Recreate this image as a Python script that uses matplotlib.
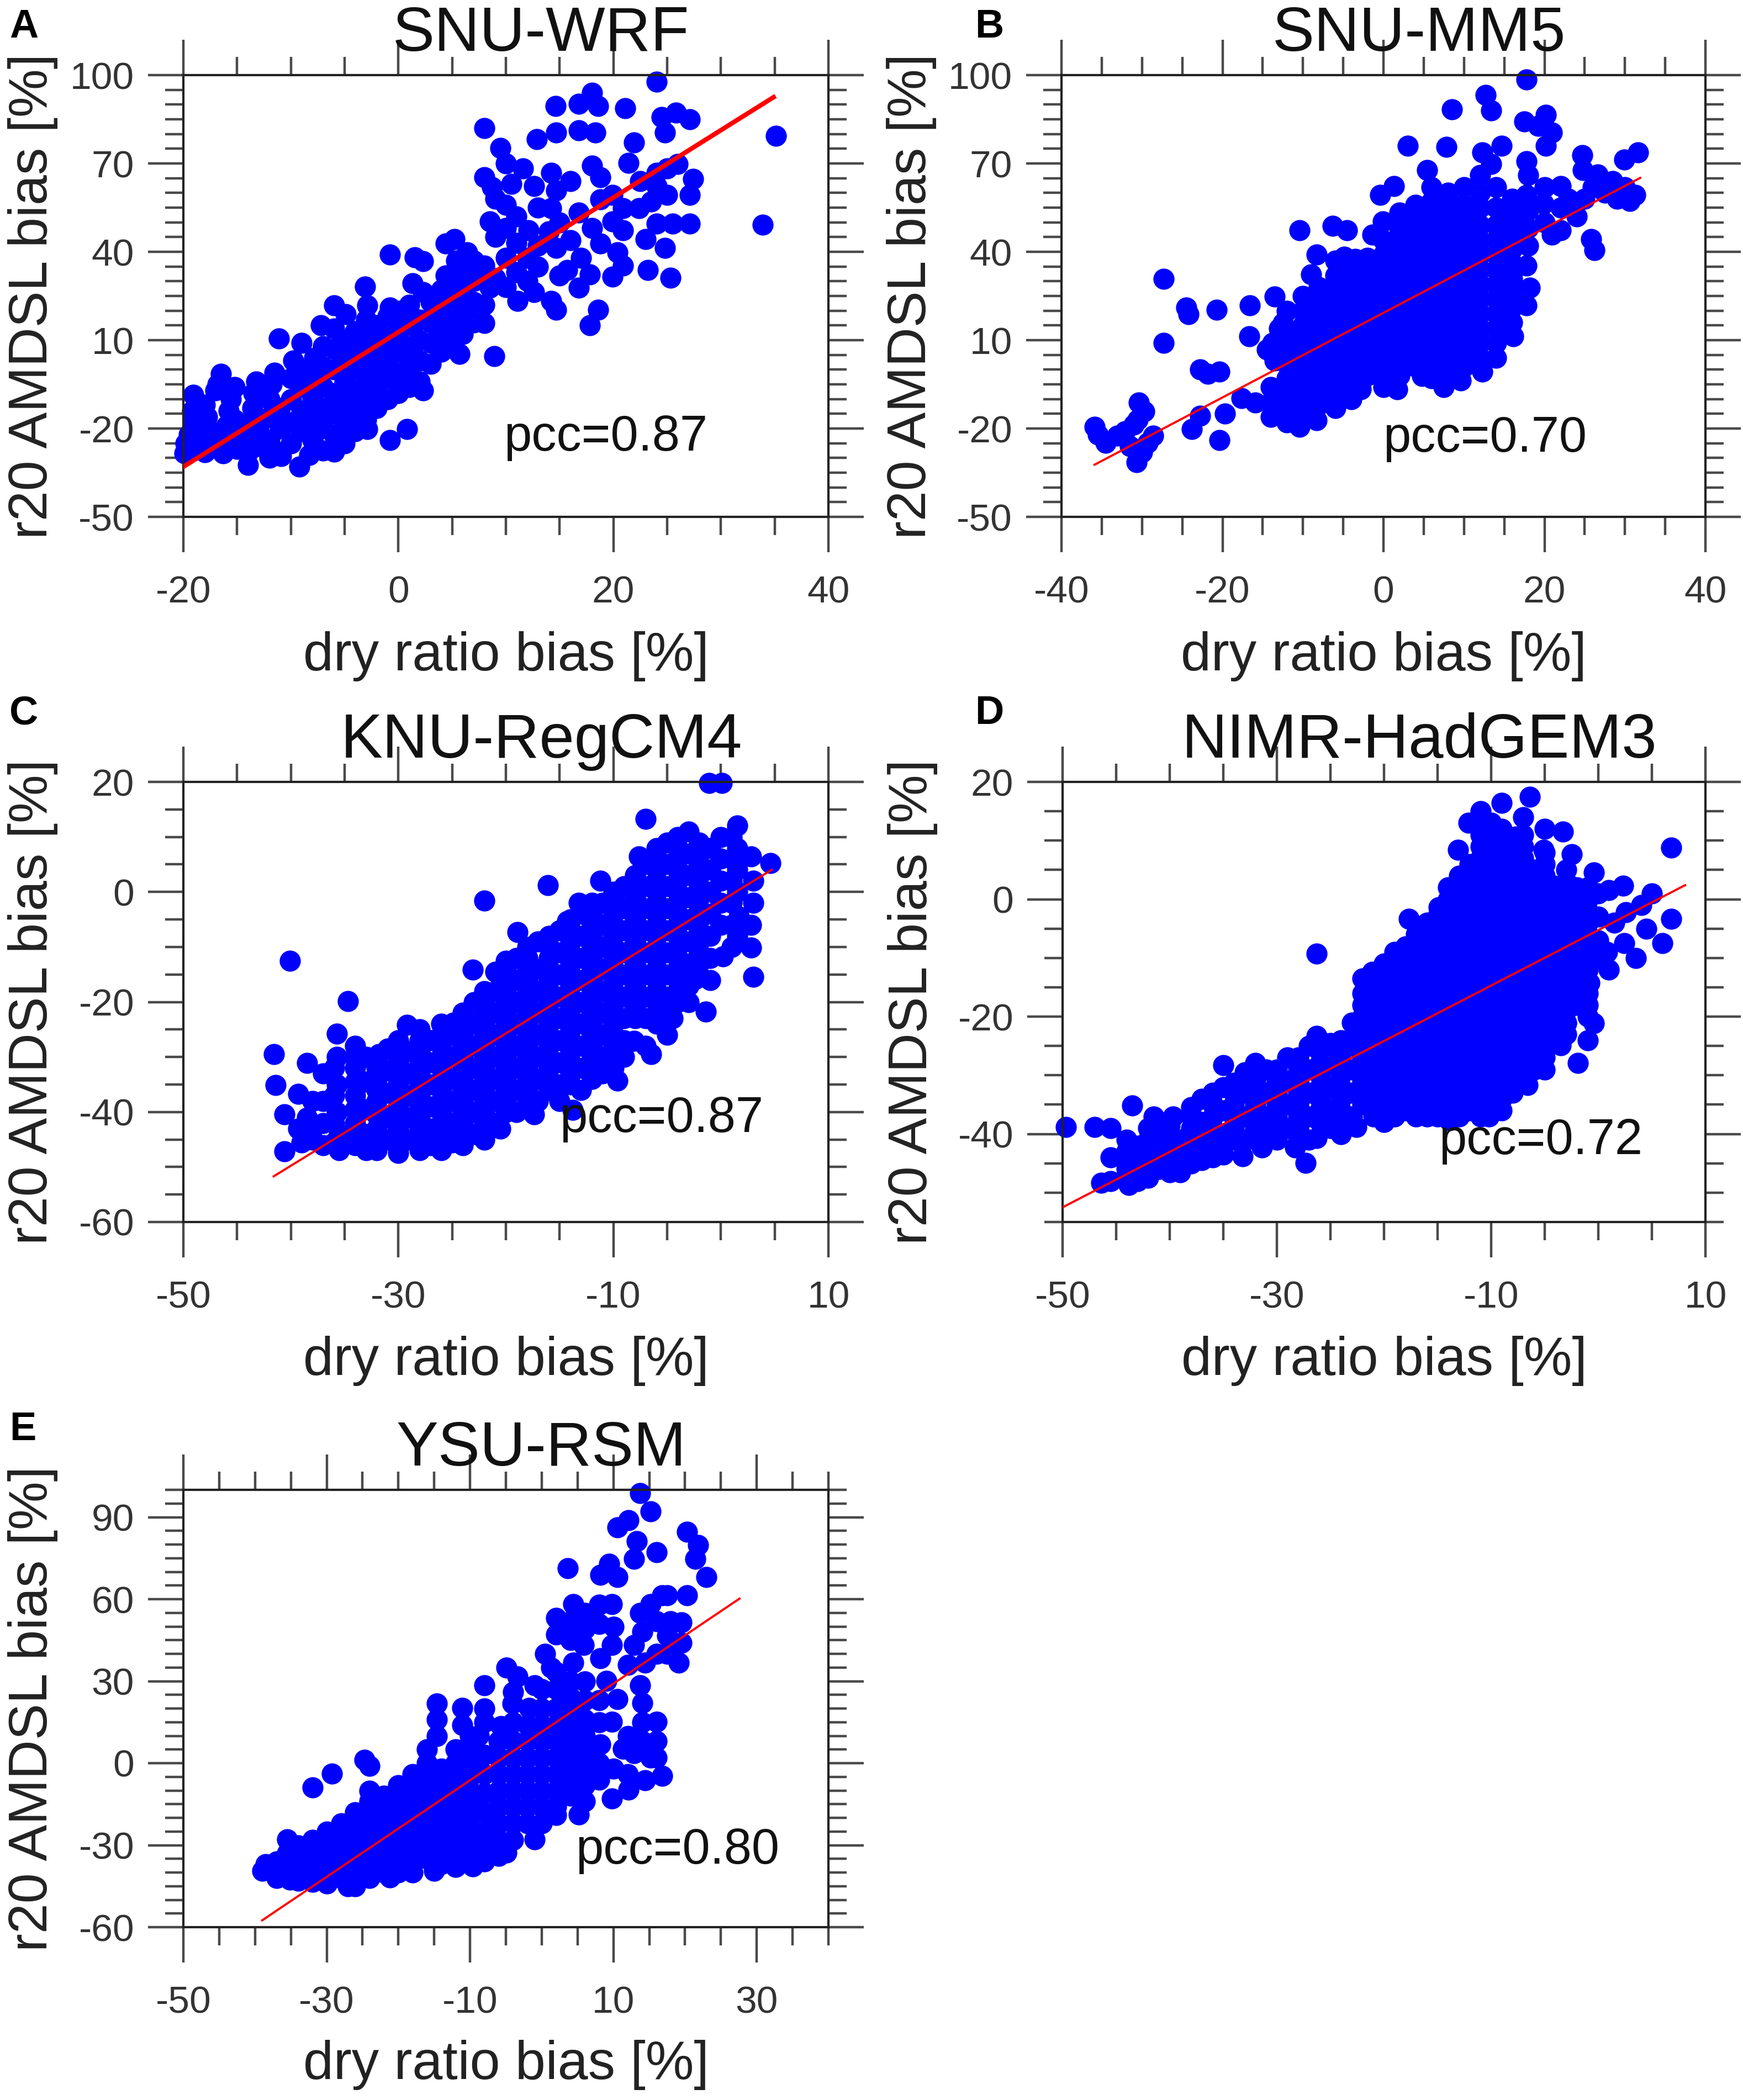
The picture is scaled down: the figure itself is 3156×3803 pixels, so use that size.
import numpy as np
import matplotlib
matplotlib.use('Agg')
import matplotlib.pyplot as plt
from matplotlib.ticker import MultipleLocator, FixedLocator

plt.rcParams['font.family'] = ['Liberation Sans', 'DejaVu Sans']
plt.rcParams['axes.unicode_minus'] = False

W, H = 3156, 3803

# ---- data (dry ratio bias, r20 AMDSL bias) ----
wrf_pts = [
    (-19.9, -28.5), (-19.8, -25), (-19.5, -22), (-19.6, -27), (-19.1, -8.5), (-19, -18), (-19.2, -14), (-18.5, -24), (-18.8, -20),
    (-18, -28), (-18, -12), (-17.8, -16), (-17.5, -21), (-17.5, -25), (-17, -7), (-16.5, -1.5), (-16.8, -5),
    (-16.3, -28.5), (-16, -24), (-16, -19), (-15.8, -14), (-15.6, -10), (-15.2, -6), (-15, -27), (-15, -22), (-15.2, -17),
    (-14, -32.3), (-14, -28), (-14, -23), (-13.8, -18), (-13.6, -13), (-13.5, -8), (-13.2, -4), (-13, -26), (-13, -20),
    (-12, -30), (-12, -24), (-12, -16), (-12, -10), (-11.8, -5), (-11.5, -1), (-11.1, 10.6), (-11, -28), (-11, -20), (-11, -13),
    (-10.9, -29.3), (-10, -25), (-10, -18), (-10, -10), (-10, -3), (-9.8, 3), (-9.2, -33), (-9, 9), (-9, -21), (-9, -14), (-9, -6), (-9, 0),
    (-8.3, -29), (-8, -24), (-8, -17), (-8, -10), (-8, -3), (-7.8, 4), (-7.2, 15.1), (-7, -27.5), (-7, -20), (-7, -13), (-7, -6), (-7, 1), (-7, 8),
    (-6, -27.8), (-6, -22), (-6, -15), (-6, -8), (-6, 0), (-6, 7), (-6, 14), (-6, 21.8), (-5, -25), (-5, -18), (-5, -11), (-5, -4), (-5, 3), (-5, 10), (-4.9, 18.8),
    (-4, -21), (-4, -14), (-4, -7), (-4, 0), (-4, 6), (-4, 13), (-3.1, 28.2), (-3, -17), (-3, -10), (-3, -3), (-3, 4), (-3, 11), (-3, 17), (-2.9, 21.8), (-2.9, -20.2),
    (-2, -13), (-2, -6), (-2, 1), (-2, 8), (-2, 15), (-1, -10), (-1, -3), (-1, 4), (-1, 11), (-1, 18), (-0.8, 21), (-0.8, -24), (-0.8, 39.1),
    (0, -8), (0, -1), (0, 6), (0, 13), (0, 20), (1, -6), (1, 1), (1, 8), (1, 15), (1, 22), (0.8, -20.2), (1.3, 29.4), (1.5, 38.1),
    (2, -4), (2.3, -7), (2, 3), (2, 10), (2, 17), (2.3, 26.3), (3, 2), (3, 9), (3, 16), (3, 23), (2.3, 36.9),
    (4, 6), (4, 13), (4, 20), (4, 27), (4.4, 32), (4.4, 42.9), (5, 10), (5, 17), (5, 24), (5.2, 30), (5.2, 44.4), (5.4, 37), (5.7, 5.3),
    (6, 12), (6, 19), (6, 26), (6.4, 39.9), (6, 33), (7, 16), (7, 23), (7, 30), (7, 37),
    (8, 15.8), (8, 22), (8, 35.4), (8.5, 27.9), (8.9, 4.6), (8, 82), (8, 65.4), (8.5, 50.4), (9, 58), (9, 45), (9, 31), (9.5, 75.2), (8.7, 62),
    (10, 28), (10, 38), (10, 48), (10, 56), (10, 70), (10.5, 63), (11, 33), (11.1, 23.3), (11, 43), (11.6, 68.4), (11, 52),
    (12, 30), (12, 38), (12.1, 47.4), (12.6, 62.4), (12.6, 26.3), (12.9, 78.2), (13, 55), (13, 42), (13, 35),
    (14.2, 66.9), (14.2, 54.9), (14.2, 23.3), (14.6, 89.5), (14.7, 60.9), (14.7, 80.5), (14.7, 20.3), (14.7, 41.4), (14, 47), (15, 32), (15, 50),
    (15.7, 33.9), (16, 44), (16.8, 53.4), (16.8, 27.9), (16.8, 81.2), (16.8, 90.2), (16, 64), (17, 38),
    (17.8, 32.4), (17.8, 15.1), (18, 94), (18, 69.2), (18.3, 80.5), (18.6, 20.3), (18.6, 89.5), (18.8, 65.4), (18.8, 57.9), (18.8, 42.9), (18, 48),
    (19.9, 59.4), (19.9, 50.4), (19.9, 31.6), (20.4, 39.9), (20.9, 54.9), (20.9, 47.4), (20.9, 35.4), (21.1, 88.7), (21.4, 70.2), (21.9, 77.2),
    (22.4, 54.9), (23, 44.4), (23.2, 33.9), (24, 49.6), (24, 62.4), (24, 66.9), (24, 97.7), (24.5, 85.7), (24.8, 80.5), (24.8, 41.4),
    (25, 59.4), (25, 68.4), (25.3, 31.2), (25.5, 49.6), (25.8, 87.2), (26, 69.9), (27.1, 85), (27.1, 59.4), (27.1, 49.6), (27.4, 64.7),
    (23.5, 57), (22.5, 64), (35.1, 79.3), (33.9, 49.2),
]

mm5_pts = [
    (-35.9, -19.5), (-35.5, -22), (-34.5, -24.8), (-33.1, -22.5), (-32.1, -21), (-31, -18.7), (-30.4, -11.2), (-29.7, -14.2),
    (-30.7, -31.5), (-29.3, -24.8), (-28.6, -22.5), (-30, -28), (-31.5, -26), (-30.5, -17),
    (-27.3, 30.9), (-27.3, 9.1), (-24.5, 21.1), (-24.2, 18.8), (-20.7, 20.3), (-22.8, 0), (-20.4, -0.7), (-21.8, -1.5),
    (-16.6, 21.8), (-13.5, 24.8), (-16.7, 11.3), (-23.8, -20.2), (-22.8, -15.7), (-20.4, -24), (-19.7, -15), (-17.6, -9.7),
    (-15.9, -11.2), (-10.4, 47.4), (-6.3, 48.9), (-4.5, 47.4), (-14.5, 6.8), (-13.5, 3),
    (-14, -16), (-14, -11), (-14, -6), (-13.8, 9), (-13, 14),
    (-12, -18), (-12, -13), (-12, -8), (-12, -3), (-12, 2), (-12, 7), (-12, 12), (-12.5, 15.8), (-12, 20),
    (-10.4, -19.5), (-10, -15), (-10, -10), (-10, -5), (-10, 0), (-10, 5), (-10, 10), (-10, 15), (-10, 20), (-10, 25),
    (-8.3, -17.2), (-8, -12), (-8, -7), (-8, -2), (-8, 3), (-8, 8), (-8, 13), (-8, 18), (-8, 23), (-8, 28), (-9, 32.4), (-8.3, 39.1),
    (-6, -13), (-6, -8), (-6, -3), (-6, 2), (-6, 7), (-6, 12), (-6, 17), (-6, 22), (-6, 27), (-6, 32), (-6, 37),
    (-4, -10), (-4, -5), (-4, 0), (-4, 5), (-4, 10), (-4, 15), (-4, 20), (-4, 25), (-4, 30), (-4, 35), (-4.9, 38.4), (-3.5, 37.6),
    (-2.8, -6.7), (-2, -2), (-2, 3), (-2, 8), (-2, 13), (-2, 18), (-2, 23), (-2, 28), (-2, 33), (-2, 38), (-1.4, 45.9),
    (0, -6), (0, -1), (0, 4), (0, 9), (0, 14), (0, 19), (0, 24), (0, 29), (0, 34), (0, 39), (0, 44), (-0.1, 50.4), (-0.4, 59.4),
    (1.7, -6.7), (2, -2), (2, 3), (2, 8), (2, 13), (2, 18), (2, 23), (2, 28), (2, 33), (2, 38), (2, 43), (2, 48), (2, 53.4), (1.3, 62.4),
    (4.8, -2.2), (4, 1), (4, 6), (4, 11), (4, 16), (4, 21), (4, 26), (4, 31), (4, 36), (4, 41), (4, 46), (4, 51), (4, 56), (3, 76),
    (6, -3), (6, 2), (6, 7), (6, 12), (6, 17), (6, 22), (6, 27), (6, 32), (6, 37), (6, 42), (6, 47), (6, 52), (6, 57), (6, 62), (5.4, 67.7),
    (7.5, -6), (8, 0), (8, 5), (8, 10), (8, 15), (8, 20), (8, 25), (8, 30), (8, 35), (8, 40), (8, 45), (8, 50), (8, 55), (8, 60), (7.8, 75.7), (8.5, 88.3),
    (9.6, -3.7), (10, 1), (10, 6), (10, 11), (10, 16), (10, 21), (10, 26), (10, 31), (10, 36), (10, 41), (10, 46), (10, 51), (10, 56), (10, 62),
    (12.3, -0.7), (12, 4), (12, 9), (12, 14), (12, 19), (12, 24), (12, 29), (12, 34), (12, 39), (12, 44), (12, 49), (12, 55), (12, 60), (12, 66), (12.3, 73.7), (12.7, 93.2),
    (14, 4), (14, 9), (14, 14), (14, 19), (14, 24), (14, 29), (14, 34), (14, 39), (14, 44), (14, 49), (14, 55), (14, 62), (13.4, 69.9), (14.7, 76), (13.4, 88),
    (16.1, 11.3), (16, 16), (16, 21), (16, 26), (16, 31), (16, 36), (16, 41), (16, 46), (16, 52), (16, 58),
    (17.8, 21.8), (18.2, 27.9), (17.8, 35.4), (18, 42), (18, 48), (18, 54), (17.8, 59.4), (18, 66), (17.8, 70.7), (17.5, 84.2), (17.8, 98.5),
    (20.9, 45.9), (20, 50), (19.9, 56.4), (20, 62), (20.2, 76), (20.9, 80.5), (20.2, 86.5), (19.2, 82.7),
    (22, 47.4), (22, 55), (22, 62.4),
    (24, 52), (25, 58), (26, 62), (25.8, 44.4), (26.2, 40.6), (24.7, 72.9), (24.8, 67.7), (26.6, 66.2), (27.5, 60), (28, 62), (23, 58),
    (29, 58), (30.6, 57.2), (31.3, 59.4), (29.9, 71.4), (31.6, 73.7), (30, 62), (28.5, 64),
]

regcm_pts = [
    (-41.6, -29.5), (-41.4, -35.1), (-40.6, -40.4), (-40.6, -47.2), (-40.1, -12.5),
    (-39.3, -36.7), (-39.3, -43), (-39, -45.5), (-38.5, -31.1), (-38.5, -41), (-38, -45),
    (-37, -33), (-37, -38), (-37, -42), (-37, -46),
    (-35.7, -25.8), (-35.7, -30), (-35.7, -35), (-35.7, -40), (-35.5, -44), (-35.5, -47), (-34.7, -19.8),
    (-34, -28), (-34, -32), (-34, -37), (-34, -42), (-34, -46),
    (-33, -30), (-33, -34.5), (-33, -39.5), (-33, -44), (-33, -47),
    (-32, -30), (-32, -34), (-32, -38), (-32, -43), (-32, -47), (-31.8, -29.5),
    (-31, -28.5), (-31, -32.5), (-31, -36.5), (-31, -41), (-31, -45),
    (-30, -27), (-30, -31), (-30, -35), (-30, -39), (-30, -43), (-30, -47.5), (-29.2, -24.2),
    (-29, -29), (-29, -33), (-29, -37), (-29, -41), (-29, -45),
    (-28, -25), (-28, -29), (-28, -33), (-28, -37), (-28, -41), (-28, -45), (-28, -47),
    (-27, -27), (-27, -31), (-27, -35), (-27, -39), (-27, -43), (-27, -46),
    (-26, -24), (-26, -28), (-26, -32), (-26, -36), (-26, -40), (-26, -44), (-26, -47), (-24.9, -23.8),
    (-25, -26), (-25, -30), (-25, -34), (-25, -38), (-25, -42), (-25, -45.5),
    (-24, -22), (-24, -26), (-24, -30), (-24, -34), (-24, -38), (-24, -42), (-24, -46),
    (-23, -20), (-23, -24), (-23, -28), (-23, -32), (-23, -36), (-23, -40), (-23, -44),
    (-22, -18), (-22, -22), (-22, -26), (-22, -30), (-22, -34), (-22, -38), (-22, -42), (-22, -45), (-23.1, -14.1),
    (-21, -14.5), (-21, -18), (-21, -22), (-21, -26), (-21, -30), (-21, -34), (-21, -38), (-21, -42),
    (-20, -12.5), (-20, -16), (-20, -20), (-20, -24), (-20, -28), (-20, -32), (-20, -36), (-20, -40), (-20.5, -43), (-18.9, -7.3),
    (-19, -12), (-19, -16), (-19, -20), (-19, -24), (-19, -28), (-19, -32), (-19, -36), (-19, -40),
    (-18, -10), (-18, -14), (-18, -18), (-18, -22), (-18, -26), (-18, -30), (-18, -34), (-18, -38), (-17.4, -40.4),
    (-17, -9), (-17, -14), (-17, -18), (-17, -22), (-17, -26), (-17, -30), (-17, -34), (-17, -38),
    (-16, -8), (-16, -12), (-16, -16), (-16, -20), (-16, -24), (-16, -28), (-16, -32), (-16, -36), (-16.1, 1.2), (-22, -1.6),
    (-15, -7), (-15, -11), (-15, -15), (-15, -19), (-15, -23), (-15, -27), (-15, -31), (-15, -35), (-15, -38),
    (-14, -5), (-14, -9), (-14, -13), (-14, -17), (-14, -21), (-14, -25), (-14, -29), (-14, -33), (-13.8, -39.6), (-14.3, -5.3), (-13.2, -2),
    (-13, -4), (-13, -8), (-13, -12), (-13, -16), (-13, -20), (-13, -24), (-13, -28), (-13, -32), (-13, -36),
    (-12, -2), (-12, -6), (-12, -10), (-12, -14), (-12, -18), (-12, -22), (-12, -26), (-12, -30), (-12, -34),
    (-11, -2), (-11, -6), (-11, -10), (-11, -14), (-11, -18), (-11, -22), (-11, -26), (-11, -30), (-11, -33),
    (-10, 0), (-10, -4), (-10, -8), (-10, -12), (-10, -16), (-10, -20), (-10, -24), (-10, -28), (-10, -32), (-9.6, -34.3), (-11.2, 2), (-9.9, -0.4),
    (-9, 1), (-9, -3), (-9, -7), (-9, -11), (-9, -15), (-9, -19), (-9, -23), (-9, -27), (-9, -30),
    (-8, 3), (-8, -1), (-8, -5), (-8, -9), (-8, -13), (-8, -17), (-8, -21), (-8.1, -27.1), (-7, 13.3), (-7.6, 6.4),
    (-7, 5), (-7, 1), (-7, -3), (-7, -7), (-7, -11), (-7, -15), (-7, -19), (-7, -23), (-7, -28),
    (-6, 8), (-6, 4), (-6, 0), (-6, -4), (-6, -8), (-6, -12), (-6, -16), (-6, -20), (-6, -24), (-6.5, -29.5),
    (-5, 9), (-5, 5), (-5, 1), (-5, -3), (-5, -7), (-5, -11), (-5, -15), (-5, -19), (-5, -22), (-5, -26),
    (-4, 10), (-4, 6), (-4, 2), (-4, -2), (-4, -6), (-4, -10), (-4, -14), (-4, -18), (-4.5, -23),
    (-3, 11), (-3, 7), (-3, 3), (-3, -1), (-3, -5), (-3, -9), (-3, -13), (-3, -17), (-3, -20),
    (-2, 9), (-2, 5), (-2, 1), (-2, -3), (-2, -7), (-2, -11), (-2.4, -15.8), (-1.4, -21.8),
    (-1, 8), (-1, 4), (-1, 0), (-1, -4), (-1, -8), (-1, -12), (-1, -16),
    (0, 10), (0, 6), (0, 2), (0, -2), (0, -6), (0.2, -11.7), (0.1, 19.8), (-1.1, 19.8),
    (1, 10), (1, 6), (1, 2), (1, -2), (1, -6), (1, -10),
    (1.5, 12.1), (1.5, 8), (1.5, 4), (1.5, 0), (1.7, -4.5), (1.5, -8),
    (2.8, 6.4), (3, 2), (3, -2), (2.8, -6), (2.8, -10.1), (3, -15.4), (4.6, 5.2),
]
# densest part of the RegCM4 band
regcm_core = [
    (-38, -38), (-38, -43), (-36, -32), (-36, -37), (-36, -42), (-36, -45.5),
    (-34, -30), (-34, -34.5), (-34, -39.5), (-34, -44), (-32, -32), (-32, -36), (-32, -40.5), (-32, -45),
    (-30, -29), (-30, -33), (-30, -37), (-30, -41), (-30, -45), (-28, -27), (-28, -31), (-28, -35), (-28, -39), (-28, -43),
    (-26, -26), (-26, -30), (-26, -34), (-26, -38), (-26, -42), (-26, -45.5),
    (-24, -24), (-24, -28), (-24, -32), (-24, -36), (-24, -40), (-24, -44),
    (-22, -20), (-22, -24), (-22, -28), (-22, -32), (-22, -36), (-22, -40),
    (-20, -14), (-20, -18), (-20, -22), (-20, -26), (-20, -30), (-20, -34), (-20, -38),
    (-18, -12), (-18, -16), (-18, -20), (-18, -24), (-18, -28), (-18, -32), (-18, -36),
    (-16, -10), (-16, -14), (-16, -18), (-16, -22), (-16, -26), (-16, -30), (-16, -34),
    (-14, -7), (-14, -11), (-14, -15), (-14, -19), (-14, -23), (-14, -27), (-14, -31), (-14, -35),
    (-12, -4), (-12, -8), (-12, -12), (-12, -16), (-12, -20), (-12, -24), (-12, -28), (-12, -32),
    (-10, -2), (-10, -6), (-10, -10), (-10, -14), (-10, -18), (-10, -22), (-10, -26), (-10, -30),
    (-8, 1), (-8, -3), (-8, -7), (-8, -11), (-8, -15), (-8, -19), (-8, -23),
    (-6, 6), (-6, 2), (-6, -2), (-6, -6), (-6, -10), (-6, -14), (-6, -18), (-6, -22),
    (-4, 8), (-4, 4), (-4, 0), (-4, -4), (-4, -8), (-4, -12), (-4, -16), (-4, -20),
    (-2, 7), (-2, 3), (-2, -1), (-2, -5), (-2, -9), (-2, -13),
]

hadgem_pts = [
    (-49.7, -38.8), (-47, -38.8), (-46.4, -48.3), (-45.5, -39), (-45.5, -44), (-45.5, -48),
    (-43.5, -35.1), (-44, -43), (-44, -46), (-43.8, -48.7), (-42, -41), (-42, -44.5), (-42, -47.5), (-41.5, -37),
    (-43, -42), (-43, -45.5), (-43, -48), (-41, -39), (-41, -42.5), (-41, -46),
    (-40, -40), (-40, -43), (-40, -46.5), (-39.7, -37), (-38, -35.4), (-38, -39), (-38, -42), (-38, -45),
    (-39, -41), (-39, -44), (-39, -46.5), (-37, -34), (-37, -38), (-37, -41.5), (-37, -44.5),
    (-36, -33), (-36, -37), (-36, -41), (-36, -44), (-35, -28.3), (-35, -32), (-35, -36), (-35, -40), (-35, -43.5),
    (-34, -31.3), (-34, -35), (-34, -39), (-33.2, -43.8), (-33, -29.5), (-33, -33), (-33, -37), (-33, -41),
    (-32, -27.9), (-32, -31), (-32, -35), (-32, -39), (-31.4, -42.3), (-31, -29), (-31, -33), (-31, -37), (-31, -40.5),
    (-30, -29), (-30, -33), (-30, -37), (-30, -41), (-29, -27), (-29, -31), (-29, -35), (-29, -39),
    (-28, -27), (-28, -31), (-28, -35), (-28, -39), (-28.3, -42.3), (-27.3, -44.9),
    (-27, -25), (-27, -29), (-27, -33), (-27, -37), (-27, -41),
    (-26.3, -23.3), (-26.3, -9.3), (-26.3, -40.7), (-26, -26), (-26, -30), (-26, -34), (-26, -38),
    (-25, -24.5), (-25, -28), (-25, -32), (-25, -36), (-25, -39),
    (-24, -24), (-24, -28), (-24, -32), (-24, -36), (-24, -40), (-22.6, -23.7), (-22.6, -38.8),
    (-23, -21), (-23, -25), (-23, -29), (-23, -33), (-23, -37),
    (-22, -13.5), (-21.1, -12.4), (-22, -18), (-22, -22), (-22, -27), (-22, -31), (-22, -35),
    (-21, -13), (-21, -17), (-21, -21), (-21, -25), (-21, -29), (-21, -33), (-21, -37),
    (-20, -11), (-20, -15), (-20, -19), (-20, -23), (-20, -27), (-20, -31), (-20, -35), (-20, -38),
    (-19, -9), (-19, -13), (-19, -17), (-19, -21), (-19, -25), (-19, -29), (-19, -33), (-19, -37),
    (-17.7, -3.3), (-18, -8), (-18, -12), (-18, -16), (-18, -20), (-18, -24), (-18, -28), (-18, -32), (-18, -36),
    (-17, -6), (-17, -10), (-17, -14), (-17, -18), (-17, -22), (-17, -26), (-17, -30), (-17, -34), (-17, -37),
    (-16.2, -7.5), (-16, -4), (-16, -11), (-16, -15), (-16, -19), (-16, -23), (-16, -27), (-16, -31), (-16, -35), (-16, -37),
    (-15, -3), (-15, -7), (-15, -11), (-15, -15), (-15, -19), (-15, -23), (-15, -27), (-15, -31), (-15, -35),
    (-14.9, -1.4), (-14, 2), (-14, -5), (-14, -9), (-14, -13), (-14, -17), (-14, -21), (-14, -25), (-14, -29), (-14, -33), (-13.9, -37.7),
    (-13, 4), (-13, 0), (-13, -2), (-13, -6), (-13, -10), (-13, -14), (-13, -18), (-13, -22), (-13, -26), (-13, -30), (-13, -34), (-13, -37),
    (-12.1, 13), (-13.1, 8.4), (-12, 4), (-12, 0), (-12, -4), (-12, -8), (-12, -12), (-12, -16), (-12, -20), (-12, -24), (-12, -28), (-12, -32), (-12, -36),
    (-11, 15), (-11, 11), (-11, 7), (-11, 3), (-11, -1), (-11, -5), (-11, -9), (-11, -13), (-11, -17), (-11, -21), (-11, -25), (-11, -29), (-11, -33), (-11, -37),
    (-9, 16.4), (-10, 13), (-10, 9), (-10, 5), (-10, 1), (-10, -3), (-10, -7), (-10, -11), (-10, -15), (-10, -19), (-10, -23), (-10, -27), (-10, -31), (-10, -35), (-10.2, -37),
    (-9, 12), (-9, 8), (-9, 4), (-9, 0), (-9, -4), (-9, -8), (-9, -12), (-9, -16), (-9, -20), (-9, -24), (-9, -28), (-9, -32), (-9, -36),
    (-7.7, 10.7), (-8, 7), (-8, 3), (-8, -1), (-8, -5), (-8, -9), (-8, -13), (-8, -17), (-8, -21), (-8, -25), (-8, -29), (-8, -33),
    (-7, 14), (-7, 9), (-7, 5), (-7, 1), (-7, -3), (-7, -7), (-7, -11), (-7, -15), (-7, -19), (-7, -23), (-7, -27), (-7, -31),
    (-6.4, 17.5), (-5.1, 8.4), (-6, 5), (-6, 1), (-6, -3), (-6, -7), (-6, -11), (-6, -15), (-6, -19), (-6, -23), (-6, -27), (-6.6, -31.7),
    (-5, 12), (-5, 6), (-5, 3), (-5, -1), (-5, -5), (-5, -9), (-5, -13), (-5, -17), (-5, -21), (-5, -25), (-5, -29),
    (-3.3, 11.5), (-2.5, 7.7), (-4.1, 2.3), (-4, -1), (-4, -5), (-4, -9), (-4, -13), (-4, -17), (-4, -21), (-3.5, -24.9),
    (-3, 5), (-3, 1), (-3, -3), (-3, -7), (-3, -11), (-3, -15), (-3, -19), (-3, -23),
    (-0.4, 4.6), (-2, 0), (-1.5, -0.7), (-2, -4), (-2, -8), (-2, -12), (-2, -16), (-3, -21.1), (-1.9, -27.9),
    (-1, 2), (-1, -2), (-1, -6), (-1, -10), (-1, -14), (-1, -18), (-1, -24),
    (0, 1), (0, -3), (0, -7), (0, -10), (-0.8, -14.3), (-0.4, -21.1),
    (1, 1.6), (2.3, 2.3), (2.6, -2.2), (2.4, -7.5), (1.5, -4), (0.8, -9), (1, -12),
    (4, -1), (4.5, -5), (5, 1), (6.8, 8.8), (6.8, -3.3), (6, -7.5), (3.5, -10),
]
# densest part of the HadGEM3 cloud
hadgem_core = [
    (-44, -41), (-44, -44.5), (-44, -47.5), (-42, -39), (-42, -43), (-42, -46), (-40, -38.5), (-40, -41.5), (-40, -45),
    (-38, -37), (-38, -40.5), (-38, -43.5), (-36, -35), (-36, -39), (-36, -42.5), (-34, -33), (-34, -37), (-34, -41),
    (-32, -29.5), (-32, -33), (-32, -37), (-32, -41), (-30, -31), (-30, -35), (-30, -39),
    (-28, -29), (-28, -33), (-28, -37), (-28, -41), (-26, -24.5), (-26, -28), (-26, -32), (-26, -36),
    (-24, -26), (-24, -30), (-24, -34), (-24, -38),
    (-22, -16), (-22, -20), (-22, -24.5), (-22, -29), (-22, -33),
    (-21, -15), (-21, -19), (-21, -23), (-21, -27), (-21, -31), (-21, -35),
    (-20, -13), (-20, -17), (-20, -21), (-20, -25), (-20, -29), (-20, -33), (-20, -36.5),
    (-19, -11), (-19, -15), (-19, -19), (-19, -23), (-19, -27), (-19, -31), (-19, -35),
    (-18, -10), (-18, -14), (-18, -18), (-18, -22), (-18, -26), (-18, -30), (-18, -34),
    (-17, -8), (-17, -12), (-17, -16), (-17, -20), (-17, -24), (-17, -28), (-17, -32), (-17, -35.5),
    (-16, -9), (-16, -13), (-16, -17), (-16, -21), (-16, -25), (-16, -29), (-16, -33),
    (-15, -5), (-15, -9), (-15, -13), (-15, -17), (-15, -21), (-15, -25), (-15, -29), (-15, -33), (-15, -37),
    (-14, 0), (-14, -3), (-14, -7), (-14, -11), (-14, -15), (-14, -19), (-14, -23), (-14, -27), (-14, -31), (-14, -35),
    (-13, 2), (-13, -4), (-13, -8), (-13, -12), (-13, -16), (-13, -20), (-13, -24), (-13, -28), (-13, -32), (-13, -35.5),
    (-12, 6), (-12, 2), (-12, -2), (-12, -6), (-12, -10), (-12, -14), (-12, -18), (-12, -22), (-12, -26), (-12, -30), (-12, -34),
    (-11, 13), (-11, 9), (-11, 5), (-11, 1), (-11, -3), (-11, -7), (-11, -11), (-11, -15), (-11, -19), (-11, -23), (-11, -27), (-11, -31), (-11, -35),
    (-10, 11), (-10, 7), (-10, 3), (-10, -1), (-10, -5), (-10, -9), (-10, -13), (-10, -17), (-10, -21), (-10, -25), (-10, -29), (-10, -33),
    (-9, 10), (-9, 6), (-9, 2), (-9, -2), (-9, -6), (-9, -10), (-9, -14), (-9, -18), (-9, -22), (-9, -26), (-9, -30), (-9, -34),
    (-8, 9), (-8, 5), (-8, 1), (-8, -3), (-8, -7), (-8, -11), (-8, -15), (-8, -19), (-8, -23), (-8, -27), (-8, -31),
    (-7, 11), (-7, 7), (-7, 3), (-7, -1), (-7, -5), (-7, -9), (-7, -13), (-7, -17), (-7, -21), (-7, -25), (-7, -29),
    (-6, 3), (-6, -1), (-6, -5), (-6, -9), (-6, -13), (-6, -17), (-6, -21), (-6, -25), (-6, -29),
    (-5, 8), (-5, 4), (-5, 1), (-5, -3), (-5, -7), (-5, -11), (-5, -15), (-5, -19), (-5, -23), (-5, -27),
    (-4, 1), (-4, -3), (-4, -7), (-4, -11), (-4, -15), (-4, -19), (-4, -23),
    (-3, 3), (-3, -1), (-3, -5), (-3, -9), (-3, -13), (-3, -17), (-3, -21),
    (-2, 2), (-2, -2), (-2, -6), (-2, -10), (-2, -14), (-2, -18),
    (-1, 0), (-1, -4), (-1, -8), (-1, -12), (-1, -16), (-1, -20),
]

rsm_pts = [
    (-39, -39.3), (-38.5, -37), (-37, -36), (-37, -40), (-37, -42),
    (-35.5, -27.8), (-35.5, -33), (-35.5, -38), (-35.1, -42.6), (-34, -30), (-34, -35), (-34, -39), (-34, -43),
    (-32, -8.8), (-32, -28), (-32, -32), (-32, -36), (-32, -40), (-32, -43.5),
    (-30, -25), (-30, -29), (-30, -33), (-30, -37), (-30, -41), (-30, -44), (-29.3, -3.8),
    (-28, -22), (-28, -26), (-28, -30), (-28, -34), (-28, -38), (-28, -42), (-27, -45.1),
    (-26, -18), (-26, -22), (-26, -26), (-26, -30), (-26, -34), (-26, -38), (-26, -42), (-26, -45),
    (-24.7, 1.2), (-24, -1),
    (-24, -10), (-24, -14), (-24, -18), (-24, -22), (-24, -26), (-24, -30), (-24, -34), (-24, -38), (-24, -42),
    (-22, -12), (-22, -16), (-22, -20), (-22, -24), (-22, -28), (-22, -32), (-22, -36), (-22, -40), (-21.2, -41.8),
    (-20, -8), (-20, -12), (-20, -16), (-20, -20), (-20, -24), (-20, -28), (-20, -32), (-20, -36), (-20, -40),
    (-18, -4), (-18, -8), (-18, -13), (-18, -18), (-18, -23), (-18, -28), (-18, -32), (-18, -36), (-18, -40),
    (-16, 0), (-16, 5), (-16, -5), (-16, -10), (-16, -15), (-16, -20), (-16, -25), (-16, -30), (-16, -35), (-15, -39.3),
    (-14.6, 21.8), (-14.6, 16), (-14.6, 10),
    (-14, -2), (-14, -7), (-14, -12), (-14, -17), (-14, -22), (-14, -27), (-14, -32), (-14, -37),
    (-12, 5), (-12, 0), (-12, -5), (-12, -10), (-12, -15), (-12, -20), (-12, -25), (-12, -30), (-12, -35), (-12, -38),
    (-11.1, 20.2), (-11.1, 14),
    (-10, 10), (-10, 5), (-10, 0), (-10, -5), (-10, -10), (-10, -15), (-10, -20), (-10, -25), (-10, -30), (-10, -35), (-9.6, -37.7),
    (-8, 28.4), (-8, 20), (-8, 15), (-8.8, 10.2), (-8, 3), (-8, -4), (-8, -11), (-8, -18), (-8, -25), (-8, -32), (-8, -36),
    (-5.7, 13.6), (-6, 8), (-6, 2), (-6, -4), (-6, -10), (-6, -16), (-6, -22), (-6, -28), (-6, -34),
    (-4.9, 35), (-4.9, -32.7),
    (-3.4, 31.7), (-4, 26), (-4.1, 21.8), (-4, 15), (-4, 8), (-4, 2), (-4, -4), (-4, -10), (-4, -16), (-4, -22), (-4, -28),
    (-1.8, 20.2), (-1, 28.4), (-2, 14), (-2, 8), (-2, 2), (-2, -4), (-2, -10), (-2, -16), (-2, -22), (-1, -27.8),
    (0.5, 40), (1.3, 35), (0, 27), (0, 20), (0, 14), (0, 8), (0, 2), (0, -4), (0, -10), (0, -16), (0, -22),
    (2, 53.2), (2, 47), (2, 33.4), (2, 27), (2, 20), (2, 14), (2, 8), (2, 2), (2, -4), (2, -10), (2, -16), (2, -19),
    (4.4, 58.2), (4, 52), (4, 45), (4.4, 36.7), (4, 30), (4, 24), (4, 18), (4, 12), (4, 6), (4, 0), (4, -6), (4, -12), (5.2, -18.7),
    (3.6, 71.4),
    (6, 55), (6, 49), (5.9, 43.3), (6, 30), (6, 23), (6, 16), (6, 10), (6, 4), (6, -2), (6, -8), (6, -14),
    (8.2, 68.9), (8, 58), (8, 51), (8.2, 38.3), (9, 30.1), (8, 23), (8, 15), (8.2, 6.9), (8, 0), (8, -6), (9.8, -12.9),
    (9.4, 73), (10.6, 68.1), (9.8, 58.2), (10, 50), (9.8, 43.3), (10.6, 23.5), (9.8, 15.2), (11.3, 5.3), (10, -2), (12.1, -9.6),
    (10.6, 86.3), (12.1, 88.8),
    (13.3, 81.3), (12.9, 74.7), (13.7, 54.9), (12.9, 43.3), (12, 36), (13.7, 28.4), (12, 10), (12.9, 3.6), (12, -4),
    (13.7, 98.7), (15.2, 58.2), (14, 48), (14.4, 36.7), (14, 22), (14, 15), (14, 8), (15.2, 2), (14.4, -6.3),
    (15.2, 92.1), (16, 77.2),
    (16.8, 61.5), (16, 52), (16, 40), (16, 15.2), (16, 8), (16, 2), (16.8, -4.6),
    (17.5, 61.5), (17.5, 46.6), (17.5, 40), (18, 52),
    (19.5, 51.6), (19.1, 36.7), (19.5, 44),
    (20.3, 84.6), (20.3, 61.5), (21.8, 79.7), (21.4, 74.7), (23, 68.1),
]

# regression line end points
wrf_fit = ([-20.0, 34.9], [-33.0, 92.5])
mm5_fit = ([-35.9, 31.9], [-32.3, 65.1])
regcm_fit = ([-41.6, 4.7], [-51.7, 4.0])
hadgem_fit = ([-50.0, 8.1], [-52.5, 2.4])
rsm_fit = ([-39.0, 27.6], [-57.5, 60.2])

titles = ['SNU-WRF', 'SNU-MM5', 'KNU-RegCM4', 'NIMR-HadGEM3', 'YSU-RSM']
letters = ['A', 'B', 'C', 'D', 'E']
pcc = ['pcc=0.87', 'pcc=0.70', 'pcc=0.87', 'pcc=0.72', 'pcc=0.80']

xlims = [(-20, 40), (-40, 40), (-50, 10), (-50, 10), (-50, 40)]
ylims = [(-50, 100), (-50, 100), (-60, 20), (-55, 20), (-60, 100)]
xmajor = [[-20, 0, 20, 40], [-40, -20, 0, 20, 40], [-50, -30, -10, 10], [-50, -30, -10, 10], [-50, -30, -10, 10, 30]]
ymajor = [[-50, -20, 10, 40, 70, 100], [-50, -20, 10, 40, 70, 100], [-60, -40, -20, 0, 20], [-40, -20, 0, 20],
          [-60, -30, 0, 30, 60, 90]]

# layout in pixels: left, top, right, bottom
boxes = [(332, 136, 1500, 936), (1922, 136, 3088, 936),
         (332, 1416, 1500, 2213), (1924, 1416, 3088, 2213),
         (332, 2698, 1500, 3490)]
letter_y = [68, 68, 1311, 1311, 2608]
pcc_pos = [(0.497, 0.150), (0.499, 0.148), (0.583, 0.205), (0.585, 0.154), (0.608, 0.145)]
fit_lw = [6.0, 2.8, 2.8, 2.8, 2.8]

fig = plt.figure(figsize=(W / 100, H / 100), dpi=100)

panels = [wrf_pts, mm5_pts, regcm_pts + regcm_core, hadgem_pts + hadgem_core, rsm_pts]
fits = [wrf_fit, mm5_fit, regcm_fit, hadgem_fit, rsm_fit]

for i in range(5):
    l, t, r, b = boxes[i]
    ax = fig.add_axes([l / W, 1 - b / H, (r - l) / W, (b - t) / H])
    pts = np.array(panels[i])
    ax.scatter(pts[:, 0], pts[:, 1], s=760, c='#0000ff', linewidths=0, clip_on=False, zorder=2)
    ax.plot(fits[i][0], fits[i][1], color='#ff0000', lw=fit_lw[i], zorder=3)

    ax.set_xlim(xlims[i])
    ax.set_ylim(ylims[i])
    ax.xaxis.set_major_locator(FixedLocator(xmajor[i]))
    ax.yaxis.set_major_locator(FixedLocator(ymajor[i]))
    ax.xaxis.set_minor_locator(MultipleLocator(5))
    ax.yaxis.set_minor_locator(MultipleLocator(5))

    ax.tick_params(which='both', direction='out', top=True, right=True, color='#4a4a4a', width=3.2)
    ax.tick_params(which='major', length=46, labelsize=50, labelcolor='#333333')
    ax.tick_params(which='minor', length=24)
    ax.tick_params(axis='x', which='major', pad=30)
    ax.tick_params(axis='y', which='major', pad=18)
    for sp in ax.spines.values():
        sp.set_linewidth(3)
        sp.set_color('#222222')

    ax.set_xlabel('dry ratio bias [%]', fontsize=71, color='#222222', va='center')
    ax.xaxis.set_label_coords(0.5, -0.315)
    ax.set_ylabel('r20 AMDSL bias [%]', fontsize=71, color='#222222', va='center')
    ax.yaxis.set_label_coords(-0.233, 0.5)

    ax.text(pcc_pos[i][0], pcc_pos[i][1], pcc[i], transform=ax.transAxes,
            fontsize=65, color='#111111', ha='left', va='baseline')

    # title sits a little right of the axes centre, as in the original
    fig.text(((l + r) / 2 + 64) / W, 1 - (t - 44) / H, titles[i], fontsize=82,
             ha='center', va='baseline', color='#111111')
    lx = 17 if l < 1000 else 1765
    fig.text(lx / W, 1 - letter_y[i] / H, letters[i], fontsize=52, fontweight='bold',
             ha='left', va='baseline')

fig.savefig('out.png', dpi=100, facecolor='white')
